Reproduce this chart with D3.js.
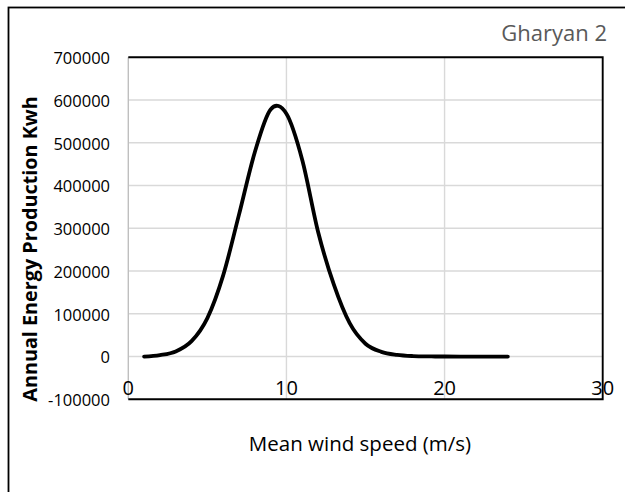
<!DOCTYPE html>
<html>
<head>
<meta charset="utf-8">
<script src="https://cdn.jsdelivr.net/npm/d3@7"></script>
<style>
  html, body { margin: 0; padding: 0; background: #fff; }
  svg { display: block; }
  text { font-family: "Open Sans", "Noto Sans", sans-serif; }
</style>
</head>
<body>
<script>
// Mean wind speed (m/s) and annual energy production (kWh) for Gharyan 2
const windSpeeds = [1, 2, 3, 4, 5, 6, 7, 8, 9, 10, 11, 12, 13, 14, 15, 16, 17, 18, 19, 20, 21, 22, 23, 24];
const annualEnergy = [0, 3500, 12000, 36000, 90000, 190000, 332000, 478000, 578000, 568000,
                      460000, 292000, 168000, 78000, 30000, 11000, 4000, 1200, 300, 100, 30, 10, 0, 0];
const xTicks = [0, 10, 20, 30];
const yTicks = [-100000, 0, 100000, 200000, 300000, 400000, 500000, 600000, 700000];
const chartTitle = "Gharyan 2";
const xTitle = "Mean wind speed (m/s)";
const yTitle = "Annual Energy Production Kwh";

const W = 625, H = 492;
const plot = { left: 128.3, right: 602.7, top: 57.3, bottom: 399.3 };

const svg = d3.select("body").append("svg").attr("width", W).attr("height", H);

// Outer chart frame
svg.append("rect")
  .attr("x", 8.5).attr("y", 7.5)
  .attr("width", 700).attr("height", 600)
  .attr("fill", "none").attr("stroke", "#000").attr("stroke-width", 1.8);

const x = d3.scaleLinear().domain([0, 30]).range([plot.left, plot.right]);
const y = d3.scaleLinear().domain([-100000, 700000]).range([plot.bottom, plot.top]);

// Horizontal gridlines
svg.append("g")
  .selectAll("line")
  .data(yTicks.filter(v => v > -100000 && v < 700000))
  .join("line")
  .attr("x1", plot.left).attr("x2", plot.right)
  .attr("y1", d => y(d)).attr("y2", d => y(d))
  .attr("stroke", "#d9d9d9").attr("stroke-width", 1.4);

// Vertical gridlines
svg.append("g")
  .selectAll("line")
  .data(xTicks.filter(v => v > 0 && v < 30))
  .join("line")
  .attr("x1", d => x(d)).attr("x2", d => x(d))
  .attr("y1", plot.top).attr("y2", plot.bottom)
  .attr("stroke", "#d9d9d9").attr("stroke-width", 1.4);

// Left value axis line (gray)
svg.append("line")
  .attr("x1", plot.left).attr("x2", plot.left)
  .attr("y1", plot.top).attr("y2", plot.bottom)
  .attr("stroke", "#bfbfbf").attr("stroke-width", 1.4);

// Black plot border: top, right, bottom
svg.append("path")
  .attr("d", `M${plot.left},${plot.top}H${plot.right}V${plot.bottom}H${plot.left}`)
  .attr("fill", "none").attr("stroke", "#000").attr("stroke-width", 1.9);

// Y tick labels (plain hyphen for negatives)
svg.append("g")
  .selectAll("text")
  .data(yTicks)
  .join("text")
  .attr("x", 110)
  .attr("y", d => y(d) + 1)
  .attr("dy", "0.35em")
  .attr("text-anchor", "end")
  .attr("font-size", 16.5)
  .attr("fill", "#000")
  .text(d => String(d));

// X tick labels
svg.append("g")
  .selectAll("text")
  .data(xTicks)
  .join("text")
  .attr("x", d => x(d))
  .attr("y", 395)
  .attr("text-anchor", "middle")
  .attr("font-size", 20)
  .attr("fill", "#000")
  .text(d => d);

// Energy curve
const line = d3.line()
  .x((d, i) => x(windSpeeds[i]))
  .y(d => y(d))
  .curve(d3.curveCardinal.tension(0));

svg.append("path")
  .datum(annualEnergy)
  .attr("d", line)
  .attr("fill", "none")
  .attr("stroke", "#000")
  .attr("stroke-width", 3.8)
  .attr("stroke-linecap", "round")
  .attr("stroke-linejoin", "round");

// Chart title
svg.append("text")
  .attr("x", 607).attr("y", 40.7)
  .attr("text-anchor", "end")
  .attr("font-size", 22)
  .attr("fill", "#595959")
  .text(chartTitle);

// Axis titles
svg.append("text")
  .attr("x", 360).attr("y", 451)
  .attr("text-anchor", "middle")
  .attr("font-size", 20.5)
  .attr("fill", "#000")
  .text(xTitle);

svg.append("text")
  .attr("transform", "translate(37,249) rotate(-90)")
  .attr("text-anchor", "middle")
  .attr("font-size", 19.8)
  .attr("font-weight", "bold")
  .attr("fill", "#000")
  .text(yTitle);
</script>
</body>
</html>
